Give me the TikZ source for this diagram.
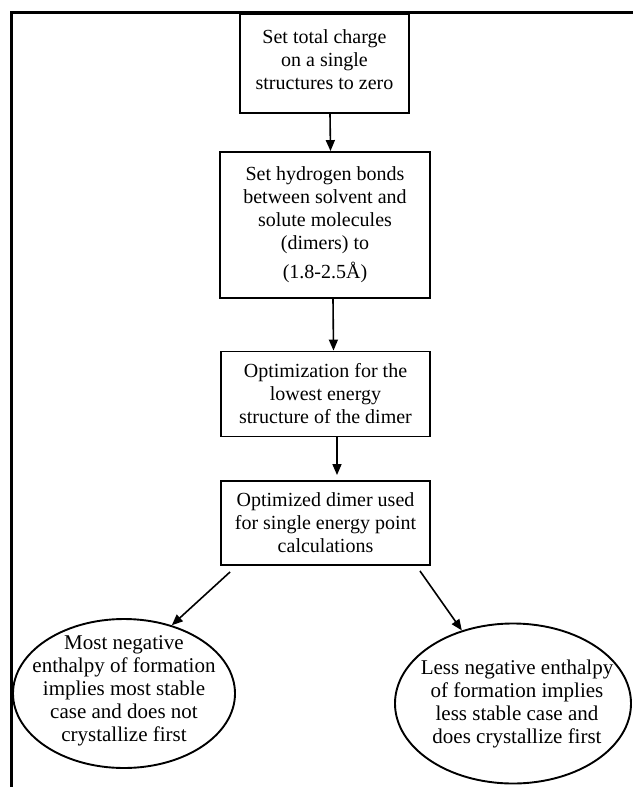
\documentclass[tikz,border=0pt]{standalone}
\usepackage{fontspec}
\setmainfont{Liberation Serif}
\usetikzlibrary{arrows.meta,shapes.geometric}
\begin{document}
\begin{tikzpicture}[x=1pt,y=-1pt,
  every node/.style={font=\fontsize{20}{23}\selectfont, align=center, inner sep=0pt},
  stepbox/.style={draw, line width=1.9pt, rectangle},
  outcome/.style={draw, line width=1.9pt, ellipse},
  outtext/.style={font=\fontsize{21}{23}\selectfont},
  flow/.style={line width=1.6pt, -{Triangle[length=11pt,width=9pt]}}]
\useasboundingbox (0,0) rectangle (633,787);
% frame lines
\draw[line width=3.4pt] (11.5,787) -- (11.5,12.5) -- (633,12.5);
% process steps
\node[stepbox, minimum width=169pt, minimum height=99pt] (b1) at (324.5,63.5) {};
\node (t1) at ([yshift=4pt]b1.center) {Set total charge\\on a single\\structures to zero};
\node[stepbox, minimum width=210pt, minimum height=146pt] (b2) at (325,225)
  {Set hydrogen bonds\\between solvent and\\solute molecules\\(dimers) to\\[6pt](1.8-2.5Å)};
\node[stepbox, minimum width=209pt, minimum height=85pt] (b3) at (325.5,394)
  {Optimization for the\\lowest energy\\structure of the dimer};
\node[stepbox, minimum width=209pt, minimum height=84pt] (b4) at (325.5,523)
  {Optimized dimer used\\for single energy point\\calculations};
% outcomes
\node[outcome, minimum width=222pt, minimum height=149pt] (e1) at (124,693.5) {};
\node[outtext] (t5) at ([yshift=3pt]e1.center)
  {Most negative\\enthalpy of formation\\implies most stable\\case and does not\\crystallize first};
\node[outcome, minimum width=236pt, minimum height=160pt] (e2) at (513,703.5) {};
\node[outtext] (t6) at ([xshift=4pt]e2.center)
  {Less negative enthalpy\\of formation implies\\less stable case and\\does crystallize first};
% connectors
\draw[flow] ([xshift=5.5pt]b1.south) -- ([xshift=5.5pt]b2.north);
\draw[flow] ([xshift=8pt]b2.south) -- ([xshift=8pt]b3.north);
\draw[flow, shorten >=5pt] ([xshift=11.5pt]b3.south) -- ([xshift=11.5pt]b4.north);
\draw[flow] ([shift={(10pt,-6pt)}]b4.south west) -- (e1.55);
\draw[flow] ([shift={(-11pt,-5pt)}]b4.south east) -- (e2.125);
\end{tikzpicture}
\end{document}
